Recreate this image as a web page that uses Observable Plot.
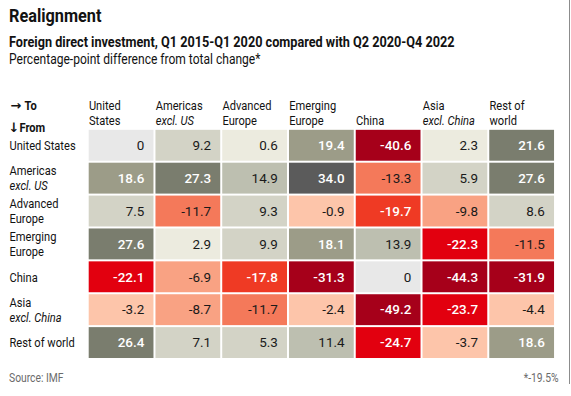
<!DOCTYPE html>
<html><head><meta charset="utf-8">
<script src="https://cdn.jsdelivr.net/npm/d3@7"></script>
<script src="https://cdn.jsdelivr.net/npm/@observablehq/plot@0.6"></script>
<style>
body{margin:0;background:#fff;}
#wrap{position:relative;width:569px;height:384px;border-right:1px solid #8c8c8c;font-family:Roboto,sans-serif;color:#121212;}
.t{position:absolute;left:9px;white-space:nowrap;line-height:1;transform:scaleX(.86);transform-origin:0 50%;}
#title{top:7px;font-size:18.5px;font-weight:bold;transform:scaleX(.88);}
#sub{top:35px;font-size:14px;font-weight:bold;transform:scaleX(.905);}
#sub2{top:52px;font-size:14px;transform:scaleX(.86);}
#chart{position:absolute;left:0;top:80px;}
#src{top:372px;font-size:12px;color:#6b6b6b;}
#note{position:absolute;right:10px;top:372px;font-size:12px;color:#6b6b6b;line-height:1;transform:scaleX(.86);transform-origin:100% 50%;white-space:nowrap;}
</style></head>
<body>
<div id="wrap">
<div class="t" id="title">Realignment</div>
<div class="t" id="sub">Foreign direct investment, Q1 2015-Q1 2020 compared with Q2 2020-Q4 2022</div>
<div class="t" id="sub2">Percentage-point difference from total change*</div>
<div id="chart"></div>
<div class="t" id="src">Source: IMF</div>
<div id="note">*-19.5%</div>
</div>
<script>
// Regions (columns = "to", rows = "from")
const toRegions = ["United States", "Americas excl. US", "Advanced Europe", "Emerging Europe", "China", "Asia excl. China", "Rest of world"];
const fromRegions = ["United States", "Americas excl. US", "Advanced Europe", "Emerging Europe", "China", "Asia excl. China", "Rest of world"];

// Header label lines
const colLine1 = ["United", "Americas", "Advanced", "Emerging", "", "Asia", "Rest of"];
const colLine2 = ["States", "excl. US", "Europe", "Europe", "China", "excl. China", "world"];
const rowLine1 = ["United States", "Americas", "Advanced", "Emerging", "China", "Asia", "Rest of world"];
const rowLine2 = ["", "excl. US", "Europe", "Europe", "", "excl. China", ""];

// Values: one array per "from" row, in toRegions order
const fromUnitedStates = [0, 9.2, 0.6, 19.4, -40.6, 2.3, 21.6];
const fromAmericas     = [18.6, 27.3, 14.9, 34.0, -13.3, 5.9, 27.6];
const fromAdvEurope    = [7.5, -11.7, 9.3, -0.9, -19.7, -9.8, 8.6];
const fromEmgEurope    = [27.6, 2.9, 9.9, 18.1, 13.9, -22.3, -11.5];
const fromChina        = [-22.1, -6.9, -17.8, -31.3, 0, -44.3, -31.9];
const fromAsia         = [-3.2, -8.7, -11.7, -2.4, -49.2, -23.7, -4.4];
const fromRestOfWorld  = [26.4, 7.1, 5.3, 11.4, -24.7, -3.7, 18.6];

// Colour bins
const thresholds = [-30, -20, -15, -10, -5, 0, 5, 10, 15, 20, 30];
const binColors = ["#a6001a", "#e2000f", "#ef3a24", "#f4795a", "#f9a283", "#fdc5aa",
                   "#ecebdf", "#d3d3c6", "#bdbfb0", "#9c9c88", "#7a7d6e", "#5b5b5b"];
const zeroColor = "#e8e8e8";

const rows = [fromUnitedStates, fromAmericas, fromAdvEurope, fromEmgEurope, fromChina, fromAsia, fromRestOfWorld];
const cells = fromRegions.flatMap((f, i) => rows[i].map((v, j) => ({from: f, to: toRegions[j], value: v, zero: v === 0})));
const cols = toRegions.map((to, j) => ({to, l1: colLine1[j], l2: colLine2[j], it: colLine2[j].startsWith("excl.")}));
const rlab = fromRegions.map((from, i) => ({from, l1: rowLine1[i], l2: rowLine2[i], it: rowLine2[i].startsWith("excl.")}));

const W = 571, H = 290, mL = 86, mR = 12, mT = 46, mB = 8;
const bw = (W - mL - mR) / toRegions.length;
const fmt = v => v === 0 ? "0" : v.toFixed(1);
const labelFont = "Roboto";
const numFont = "Roboto, sans-serif";
const arrowFont = "DejaVu Sans";
const LS = 13.3;
const dark = v => Math.abs(v) >= 15;
const squeeze = 0.84;

const chart = Plot.plot({
  width: W, height: H, marginTop: mT, marginLeft: mL, marginRight: mR, marginBottom: mB,
  x: {domain: toRegions, axis: null, padding: 0},
  y: {domain: fromRegions, axis: null, padding: 0},
  color: {type: "threshold", domain: thresholds, range: binColors},
  style: {fontFamily: numFont, fontSize: "13px", color: "#121212", background: "white"},
  marks: [
    Plot.cell(cells.filter(d => !d.zero), {x: "to", y: "from", fill: "value", inset: 1}),
    Plot.cell(cells.filter(d => d.zero), {x: "to", y: "from", fill: zeroColor, inset: 1}),
    Plot.text(cells.filter(d => !dark(d.value)), {x: "to", y: "from", text: d => fmt(d.value), textAnchor: "end", dx: bw / 2 - 11, fill: "#1a1a1a", fontFamily: numFont, fontSize: 13.5}),
    Plot.text(cells.filter(d => dark(d.value)), {x: "to", y: "from", text: d => fmt(d.value), textAnchor: "end", dx: bw / 2 - 11, fill: "white", fontFamily: numFont, fontSize: 13.5, fontWeight: 500}),
    // column headers
    Plot.text(cols, {x: "to", frameAnchor: "top", text: "l1", textAnchor: "start", dx: -bw / 2 + 1, dy: -26, fontFamily: labelFont, fontSize: LS}),
    Plot.text(cols.filter(d => !d.it), {x: "to", frameAnchor: "top", text: "l2", textAnchor: "start", dx: -bw / 2 + 1, dy: -11, fontFamily: labelFont, fontSize: LS}),
    Plot.text(cols.filter(d => d.it), {x: "to", frameAnchor: "top", text: "l2", textAnchor: "start", dx: -bw / 2 + 1, dy: -11, fontStyle: "italic", fontFamily: labelFont, fontSize: LS}),
    // row labels
    Plot.text(rlab.filter(d => !d.l2), {y: "from", frameAnchor: "left", text: "l1", textAnchor: "start", dx: -77, fontFamily: labelFont, fontSize: LS}),
    Plot.text(rlab.filter(d => d.l2), {y: "from", frameAnchor: "left", text: "l1", textAnchor: "start", dx: -77, dy: -7.5, fontFamily: labelFont, fontSize: LS}),
    Plot.text(rlab.filter(d => d.l2 && !d.it), {y: "from", frameAnchor: "left", text: "l2", textAnchor: "start", dx: -77, dy: 7.5, fontFamily: labelFont, fontSize: LS}),
    Plot.text(rlab.filter(d => d.it), {y: "from", frameAnchor: "left", text: "l2", textAnchor: "start", dx: -77, dy: 7.5, fontStyle: "italic", fontFamily: labelFont, fontSize: LS}),
    // corner
    Plot.text(["→"], {frameAnchor: "top-left", text: d => d, textAnchor: "start", dx: -76, dy: -26, fontWeight: "bold", fontFamily: arrowFont, fontSize: 13}),
    Plot.text(["To"], {frameAnchor: "top-left", text: d => d, textAnchor: "start", dx: -62, dy: -26, fontWeight: "bold", fontFamily: labelFont, fontSize: LS}),
    Plot.text(["↓"], {frameAnchor: "top-left", text: d => d, textAnchor: "start", dx: -78, dy: -4, fontWeight: "bold", fontFamily: arrowFont, fontSize: 13}),
    Plot.text(["From"], {frameAnchor: "top-left", text: d => d, textAnchor: "start", dx: -67, dy: -4, fontWeight: "bold", fontFamily: labelFont, fontSize: LS})
  ]
});
// narrow the label font horizontally around each label's own anchor point
d3.select(chart).selectAll('g[font-family="Roboto"] text').attr("transform", function () {
  const t = this.getAttribute("transform");
  if (t) return `${t} scale(${squeeze},1)`;
  const x = +this.getAttribute("x") || 0;
  return `translate(${x * (1 - squeeze)},0) scale(${squeeze},1)`;
});
document.getElementById("chart").appendChild(chart);
</script>
</body></html>
